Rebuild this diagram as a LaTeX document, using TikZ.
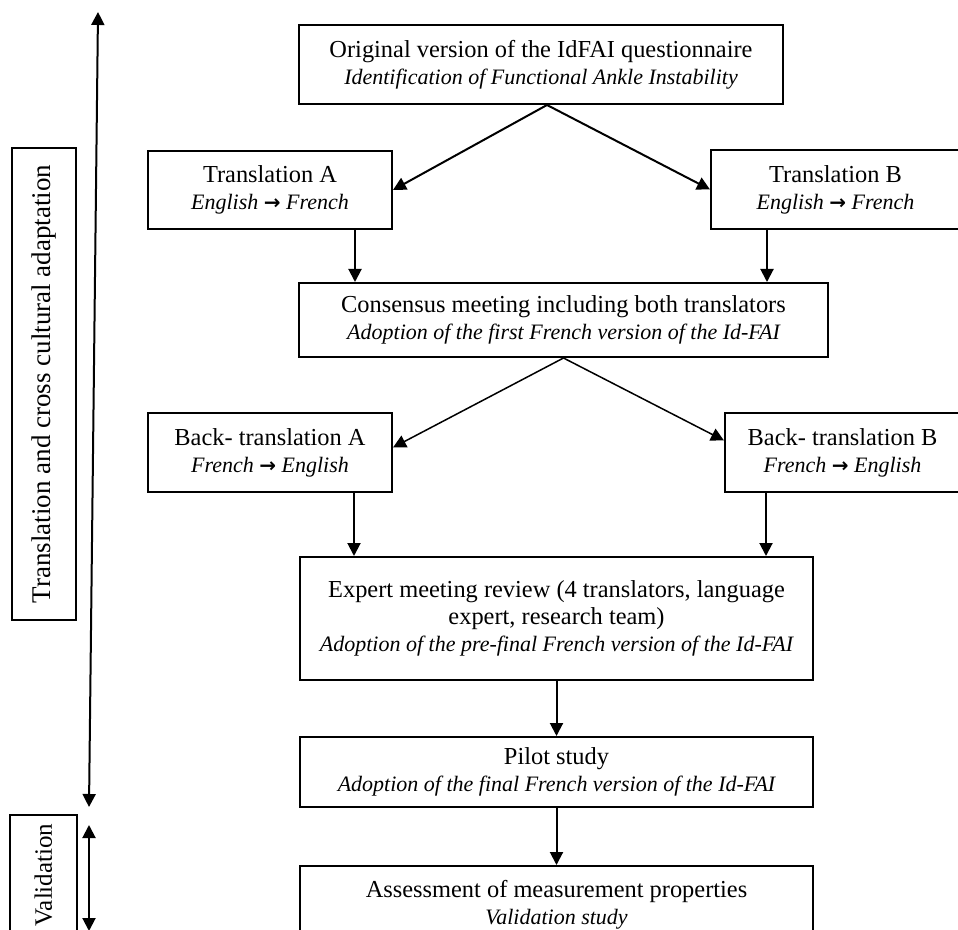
\documentclass[tikz,border=0pt]{standalone}
\usepackage{fontspec}
\setmainfont{Liberation Serif}
\newfontfamily\symfont{DejaVu Sans}
\usepackage{tikz}
\usetikzlibrary{arrows.meta, calc}

\newcommand{\arrowto}{ {\symfont\bfseries\fontsize{10}{10}\selectfont →} }
\newcommand{\itl}[1]{{\fontsize{11}{13.5}\selectfont\itshape #1}}

\begin{document}
\begin{tikzpicture}[x=0.5pt, y=-0.5pt, every node/.style={inner sep=0pt},
	box/.style={draw, line width=1pt, align=center, font=\fontsize{12.2}{13.5}\selectfont},
	arr/.style={line width=1pt, -{Triangle[length=6.5pt, width=6.5pt]}},
	thinarr/.style={line width=0.75pt, -{Triangle[length=6.5pt, width=6.5pt]}},
	dblarr/.style={line width=1pt, {Triangle[length=6.5pt, width=6.5pt]}-{Triangle[length=6.5pt, width=6.5pt]}}]
	\useasboundingbox (0, 0) rectangle (958, 930);
	% steps of the adaptation
	\node[box, minimum width=242pt, minimum height=39.5pt] (orig) at (541, 64.5) {Original version of the IdFAI questionnaire\\ \itl{Identification of Functional Ankle Instability}};
	\node[box, minimum width=122pt, minimum height=39pt] (transA) at (270, 190) {Translation A\\ \itl{English\arrowto French}};
	\node[box, minimum width=124.5pt, minimum height=39.5pt] (transB) at (835.5, 189.5) {Translation B\\ \itl{English\arrowto French}};
	\node[box, minimum width=264.5pt, minimum height=37pt] (cons) at (563.5, 320) {Consensus meeting including both translators\\ \itl{Adoption of the first French version of the Id-FAI}};
	\node[box, minimum width=122pt, minimum height=39.5pt] (backA) at (270, 452.5) {Back- translation A\\ \itl{French\arrowto English}};
	\node[box, minimum width=117.5pt, minimum height=39.5pt] (backB) at (842.5, 452.5) {Back- translation B\\ \itl{French\arrowto English}};
	\node[box, minimum width=256.5pt, minimum height=61.5pt] (expert) at (556.5, 618.5) {Expert meeting review (4 translators, language\\ expert, research team)\\ \itl{Adoption of the pre-final French version of the Id-FAI}};
	\node[box, minimum width=256.5pt, minimum height=35pt] (pilot) at (556.5, 772) {Pilot study\\ \itl{Adoption of the final French version of the Id-FAI}};
	\node[box, minimum width=256.5pt, minimum height=39pt] (assess) at (556.5, 905) {Assessment of measurement properties\\ \itl{Validation study}};

	% phases on the left
	\node[box, rotate=90, minimum width=236pt, minimum height=32pt, font=\fontsize{13.5}{15}\selectfont] (phaseT) at (44, 384) {Translation and cross cultural adaptation};
	\node[box, rotate=90, minimum width=60pt, minimum height=33.5pt, font=\fontsize{12.5}{14}\selectfont] (phaseV) at (43.5, 875) {Validation};
	\coordinate (tTop) at (98, 12);
	\coordinate (tBot) at (89, 807);
	\coordinate (vTop) at (89, 825);
	\coordinate (vBot) at (89, 931);
	\draw[dblarr] (tBot) -- (tTop);
	\draw[dblarr] (vTop) -- (vBot);

	% connectors
	\draw[arr] ([xshift=3pt]orig.south) -- (transA.east);
	\draw[arr] ([xshift=3pt]orig.south) -- (transB.west);
	\draw[arr] ([xshift=-19pt]transA.south east) -- ([xshift=-19pt]transA.south east |- cons.north);
	\draw[arr] ([xshift=28.5pt]transB.south west) -- ([xshift=28.5pt]transB.south west |- cons.north);
	\draw[thinarr] (cons.south) -- ([yshift=2.5pt]backA.east);
	\draw[thinarr] (cons.south) -- ([yshift=6pt]backB.west);
	\draw[arr] ([xshift=-19.5pt]backA.south east) -- ([xshift=-19.5pt]backA.south east |- expert.north);
	\draw[arr] ([xshift=21pt]backB.south west) -- ([xshift=21pt]backB.south west |- expert.north);
	\draw[arr] (expert.south) -- (pilot.north);
	\draw[arr] (pilot.south) -- (assess.north);
\end{tikzpicture}
\end{document}
